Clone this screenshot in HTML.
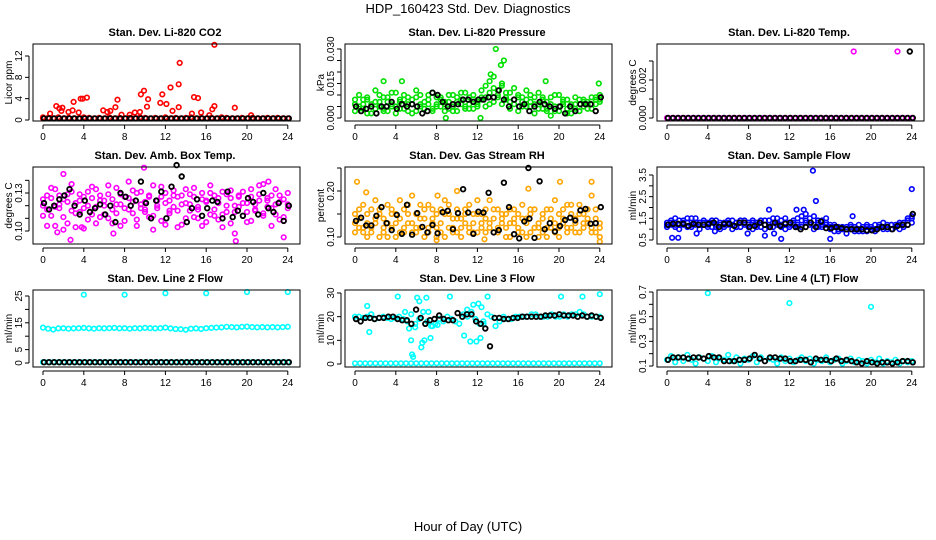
<!DOCTYPE html>
<html><head><meta charset="utf-8"><title>HDP_160423 Std. Dev. Diagnostics</title>
<style>body{margin:0;background:#fff}svg{display:block;font-family:"Liberation Sans",Arial,sans-serif}</style>
</head><body>
<svg id="chart" width="936" height="540" viewBox="0 0 936 540">
<rect x="0" y="0" width="936" height="540" fill="#fff"/>
<text x="468" y="13" text-anchor="middle" font-size="13">HDP_160423 Std. Dev. Diagnostics</text>
<text x="468" y="531" text-anchor="middle" font-size="13">Hour of Day (UTC)</text>
<g id="panels"></g>
</svg>
<script>
// ---- data ----
const xTicks = [0,4,8,12,16,20,24];
const titles = ["Stan. Dev. Li-820 CO2","Stan. Dev. Li-820 Pressure","Stan. Dev. Li-820 Temp.","Stan. Dev. Amb. Box Temp.","Stan. Dev. Gas Stream RH","Stan. Dev. Sample Flow","Stan. Dev. Line 2 Flow","Stan. Dev. Line 3 Flow","Stan. Dev. Line 4 (LT) Flow"];
const yLabels = ["Licor ppm","kPa","degrees C","degrees C","percent","ml/min","ml/min","ml/min","ml/min"];
const colors = ["#ff0000","#00e000","#ff00ff","#ff00ff","#ffa500","#0000ff","#00ffff","#00ffff","#00ffff"];
const yTicks = [[0,4,8,12],[0,0.005,0.010,0.015,0.020,0.025,0.030],[0,0.001,0.002,0.003],[0.10,0.11,0.12,0.13,0.14],[0.10,0.15,0.20,0.25],[0.5,1.0,1.5,2.0,2.5,3.0,3.5],[0,5,10,15,20,25],[0,10,20,30],[0.1,0.2,0.3,0.4,0.5,0.6,0.7]];
const yTickLabels = [["0","4","8","12"],["0.000","","","0.015","","","0.030"],["0.000","","0.002",""],["0.10","","","0.13",""],["0.10","","0.20",""],["0.5","","1.5","","2.5","","3.5"],["0","5","","15","","25"],["0","10","20","30"],["0.1","","0.3","","0.5","","0.7"]];
const yCal = [[0,76,12,12],[0,74,0.030,5],[0,74,0.003,17],[0.10,64,0.13,26],[0.10,70,0.20,24],[0.5,73,3.5,8],[0,73,25,6],[0,74,30,3],[0.1,76,0.7,2]];

const co2Band = [0.3,0.4,0.3,0.5,0.3,0.4,0.3,0.3,0.5,0.4,0.3,0.4,0.3,0.5,0.3,0.4,0.3,0.4,0.3,0.5,0.4,0.3,0.4,0.3,0.5,0.3,0.4,0.3,0.4,0.5,0.3,0.4,0.3,0.4,0.3,0.5,0.4,0.3,0.3,0.4,0.3,0.4,0.3,0.3,0.4,0.3,0.4,0.3,0.3];
const co2OutH = [0.0,0.7,1.3,1.6,1.9,1.8,2.5,2.9,3.0,3.5,3.7,3.9,4.3,5.9,6.3,6.6,7.1,7.3,7.7,8.5,9.0,9.6,9.5,9.9,10.2,10.3,11.5,11.7,12.1,12.5,12.7,13.3,13.3,13.4,14.6,14.8,15.2,15.5,16.3,16.6,16.8,16.8,18.8,20.4];
const co2OutV = [0.5,1.2,2.6,2.2,2.3,1.7,1.5,1.8,3.4,1.4,4.0,4.0,4.2,1.8,1.5,1.7,2.4,3.8,1.0,1.0,1.4,4.8,1.5,5.5,2.5,3.9,3.2,4.8,3.0,6.1,1.7,2.4,6.7,10.7,1.2,4.3,4.1,1.4,0.9,2.0,2.6,14.1,2.3,0.9];
const co2Black = [0.3,0.3,0.3,0.3,0.3,0.3,0.3,0.3,0.3,0.3,0.3,0.3,0.3,0.3,0.3,0.3,0.3,0.3,0.3,0.3,0.3,0.3,0.3,0.3,0.3,0.3,0.3,0.3,0.3,0.3,0.3,0.3,0.3,0.3,0.3,0.3,0.3,0.3,0.3,0.3,0.3,0.3,0.3,0.3,0.3,0.3,0.3,0.3,0.3];

const presA = [0.006,0.010,0.004,0.008,0.002,0.007,0.005,0.009,0.003,0.006,0.011,0.004,0.008,0.006,0.002,0.009,0.005,0.007,0.010,0.004,0.006,0.008,0.003,0.007,0.005,0.009,0.006,0.011,0.004,0.008,0.007,0.012,0.009,0.016,0.013,0.010,0.014,0.008,0.011,0.006,0.010,0.007,0.012,0.005,0.009,0.004,0.008,0.003,0.006,0.010,0.005,0.007,0.002,0.006,0.004,0.008,0.005,0.007,0.009,0.006,0.008];
const presB = [0.003,0.005,0.008,0.002,0.006,0.004,0.010,0.003,0.007,0.005,0.002,0.008,0.004,0.009,0.006,0.003,0.010,0.004,0.006,0.003,0.009,0.005,0.007,0.004,0.010,0.003,0.008,0.005,0.009,0.004,0.006,0.008,0.005,0.011,0.007,0.012,0.006,0.009,0.004,0.008,0.003,0.009,0.005,0.007,0.002,0.006,0.009,0.004,0.001,0.005,0.003,0.008,0.004,0.002,0.006,0.003,0.007,0.004,0.006,0.008,0.010];
const presC = [0.008,0.004,0.006,0.009,0.005,0.012,0.007,0.004,0.009,0.011,0.005,0.007,0.010,0.003,0.008,0.012,0.006,0.004,0.008,0.011,0.005,0.009,0.006,0.010,0.003,0.007,0.011,0.004,0.006,0.010,0.005,0.009,0.014,0.006,0.018,0.009,0.015,0.011,0.007,0.013,0.009,0.005,0.008,0.010,0.006,0.011,0.004,0.007,0.009,0.003,0.010,0.006,0.008,0.005,0.009,0.003,0.008,0.006,0.004,0.009,0.007];
const presOutH = [13.8,14.6,14.3,2.8,4.6,18.7,23.9,8.9,12.3,13.3];
const presOutV = [0.030,0.025,0.023,0.016,0.016,0.016,0.015,0.0,0.0,0.019];
const presBlack = [0.005,0.003,0.004,0.005,0.002,0.005,0.005,0.007,0.004,0.006,0.005,0.006,0.005,0.002,0.003,0.011,0.010,0.007,0.005,0.006,0.006,0.008,0.008,0.007,0.008,0.008,0.009,0.009,0.012,0.008,0.005,0.008,0.005,0.006,0.003,0.005,0.007,0.006,0.005,0.004,0.005,0.002,0.005,0.003,0.006,0.006,0.006,0.003,0.009];

const tempBand = [0,0,0,0,0,0,0,0,0,0,0,0,0,0,0,0,0,0,0,0,0,0,0,0,0,0,0,0,0,0,0,0,0,0,0,0,0,0,0,0,0,0,0,0,0,0,0,0,0];
const tempOutH = [18.3,22.6];
const tempOutV = [0.0035,0.0035];
const tempBlackOutH = [23.8];
const tempBlackOutV = [0.0035];

const ambA = [0.120,0.128,0.112,0.133,0.118,0.125,0.106,0.131,0.122,0.115,0.127,0.109,0.135,0.119,0.124,0.113,0.129,0.117,0.134,0.121,0.108,0.126,0.114,0.130,0.118,0.123,0.111,0.136,0.120,0.127,0.105,0.124,0.132,0.116,0.128,0.110,0.121,0.134,0.119,0.125,0.107,0.130,0.117,0.122,0.113,0.129,0.126,0.098,0.119,0.131,0.115,0.127,0.121,0.136,0.112,0.124,0.118,0.133,0.109,0.125,0.121];
const ambB = [0.112,0.117,0.126,0.104,0.121,0.111,0.129,0.116,0.103,0.124,0.118,0.131,0.113,0.106,0.128,0.120,0.110,0.125,0.114,0.104,0.127,0.117,0.132,0.109,0.121,0.115,0.128,0.112,0.124,0.108,0.130,0.116,0.119,0.127,0.105,0.122,0.129,0.111,0.117,0.104,0.123,0.113,0.128,0.109,0.131,0.115,0.106,0.120,0.127,0.112,0.122,0.108,0.116,0.129,0.114,0.126,0.104,0.121,0.128,0.111,0.118];
const ambC = [0.125,0.104,0.134,0.119,0.128,0.101,0.123,0.137,0.114,0.129,0.102,0.120,0.126,0.133,0.111,0.124,0.136,0.106,0.121,0.129,0.118,0.139,0.123,0.104,0.131,0.117,0.127,0.101,0.118,0.135,0.122,0.114,0.128,0.103,0.121,0.133,0.116,0.127,0.110,0.130,0.124,0.136,0.112,0.126,0.103,0.120,0.132,0.115,0.128,0.122,0.107,0.133,0.117,0.124,0.137,0.119,0.128,0.113,0.123,0.108,0.130];
const ambOutH = [2.0,1.4,2.7,3.8,9.9,6.9,18.9,22.1,23.6];
const ambOutV = [0.145,0.099,0.093,0.103,0.150,0.098,0.092,0.139,0.095];
const ambBlack = [0.122,0.117,0.120,0.125,0.128,0.133,0.120,0.113,0.124,0.115,0.118,0.121,0.113,0.120,0.107,0.130,0.127,0.120,0.124,0.139,0.122,0.110,0.124,0.131,0.110,0.135,0.152,0.143,0.107,0.118,0.125,0.112,0.118,0.124,0.123,0.110,0.131,0.111,0.116,0.112,0.126,0.123,0.113,0.130,0.118,0.115,0.122,0.108,0.120];

const rhA = [0.13,0.16,0.11,0.15,0.12,0.18,0.10,0.14,0.17,0.12,0.15,0.11,0.16,0.13,0.19,0.12,0.14,0.10,0.17,0.13,0.15,0.11,0.18,0.12,0.14,0.16,0.10,0.13,0.17,0.11,0.15,0.12,0.14,0.18,0.11,0.16,0.13,0.15,0.10,0.14,0.12,0.17,0.13,0.11,0.16,0.12,0.15,0.10,0.14,0.18,0.12,0.16,0.11,0.15,0.13,0.17,0.12,0.14,0.19,0.11,0.13];
const rhB = [0.11,0.14,0.12,0.10,0.16,0.13,0.15,0.11,0.13,0.16,0.10,0.14,0.12,0.17,0.11,0.15,0.12,0.16,0.11,0.14,0.12,0.16,0.10,0.15,0.12,0.11,0.14,0.16,0.12,0.15,0.11,0.13,0.16,0.12,0.14,0.11,0.15,0.12,0.13,0.16,0.11,0.14,0.10,0.15,0.12,0.13,0.11,0.16,0.12,0.13,0.10,0.14,0.17,0.12,0.11,0.15,0.13,0.16,0.12,0.14,0.10];
const rhC = [0.15,0.12,0.17,0.13,0.11,0.14,0.16,0.12,0.10,0.15,0.13,0.18,0.11,0.15,0.13,0.11,0.17,0.14,0.12,0.16,0.10,0.13,0.15,0.17,0.11,0.14,0.12,0.15,0.11,0.13,0.18,0.15,0.11,0.13,0.16,0.12,0.14,0.10,0.16,0.13,0.15,0.11,0.14,0.16,0.12,0.10,0.14,0.12,0.16,0.11,0.15,0.13,0.12,0.17,0.14,0.11,0.15,0.13,0.11,0.16,0.12];
const rhOutH = [0.2,1.1,8.1,10.0,17.0,20.1,23.2,24.0,8.0,12.7];
const rhOutV = [0.22,0.197,0.19,0.20,0.205,0.22,0.22,0.09,0.093,0.095];
const rhBlack = [0.135,0.142,0.125,0.125,0.146,0.165,0.13,0.115,0.148,0.107,0.170,0.105,0.152,0.122,0.11,0.126,0.108,0.154,0.157,0.117,0.152,0.204,0.153,0.107,0.155,0.153,0.196,0.110,0.115,0.218,0.165,0.106,0.097,0.134,0.140,0.098,0.221,0.117,0.130,0.112,0.124,0.137,0.142,0.136,0.158,0.161,0.129,0.130,0.165];
const rhBlackOutH = [17.0];
const rhBlackOutV = [0.25];

const sfA = [1.2,1.3,1.1,1.4,1.2,1.5,1.1,1.3,1.2,1.4,1.1,1.3,1.2,1.0,1.3,1.2,1.4,1.1,1.3,1.2,1.1,1.3,1.2,1.4,1.2,1.1,1.3,1.5,1.2,1.3,1.1,1.4,1.2,1.6,1.3,1.5,1.2,1.1,1.4,1.2,1.0,1.1,0.9,1.0,1.1,1.2,0.9,1.0,1.1,0.9,1.1,1.0,1.2,1.1,1.0,1.2,1.1,1.3,1.2,1.4,1.5];
const sfB = [1.1,1.4,1.2,1.0,1.3,1.1,1.5,1.2,1.0,1.3,1.2,1.1,1.4,1.2,1.1,1.4,1.0,1.3,1.1,1.4,1.3,1.0,1.1,1.3,1.0,1.4,1.1,1.2,1.4,1.0,1.3,1.2,1.5,1.1,1.4,1.2,1.0,1.3,1.1,1.5,1.2,0.9,1.1,1.0,0.8,1.0,1.1,0.9,1.0,1.2,1.0,0.9,1.1,1.0,1.2,1.0,1.1,1.0,1.1,1.2,1.3];
const sfC = [1.3,1.2,1.5,1.2,1.4,1.3,1.2,1.5,1.3,1.2,1.3,1.4,1.1,1.3,1.2,1.3,1.2,1.1,1.4,1.3,1.2,1.4,1.3,1.1,1.4,1.2,1.5,1.3,1.1,1.5,1.2,1.3,1.1,1.4,1.7,1.3,1.6,1.4,1.2,1.3,1.1,1.2,1.0,1.1,1.0,1.1,1.0,1.2,0.9,1.1,1.0,1.2,1.1,1.3,1.1,1.2,1.2,1.2,1.3,1.5,1.6];
const sfOutH = [0.5,1.1,2.9,4.7,7.9,9.6,10.0,11.2,12.7,13.4,14.3,14.6,16.0,18.2,24.0,10.5];
const sfOutV = [0.6,0.6,0.8,0.9,0.8,0.7,1.9,0.55,1.9,1.9,3.7,2.3,0.55,1.6,2.85,0.8];
const sfBlack = [1.2,1.25,1.25,1.25,1.15,1.25,1.2,1.2,1.25,1.3,1.1,1.25,1.25,1.15,1.3,1.3,1.1,1.15,1.3,1.2,1.1,1.3,1.15,1.25,1.3,1.1,1.0,1.1,1.3,1.1,1.35,1.05,1.05,1.1,1.05,1.0,1.0,1.0,1.0,0.95,0.95,1.0,1.1,1.1,1.0,1.15,1.2,1.2,1.7];

const l2Band = [13.2,12.8,12.5,12.9,13.0,12.8,12.9,13.0,13.1,12.9,12.8,13.0,12.9,13.0,13.1,12.9,13.0,12.8,13.0,12.9,13.1,13.0,12.9,13.0,13.2,12.9,12.7,12.6,12.4,12.8,12.9,12.7,13.0,13.1,13.2,13.3,13.5,13.4,13.3,13.5,13.6,13.4,13.3,13.4,13.3,13.4,13.3,13.4,13.5];
const l2Zero = [0.3,0.3,0.3,0.3,0.3,0.3,0.3,0.3,0.3,0.3,0.3,0.3,0.3,0.3,0.3,0.3,0.3,0.3,0.3,0.3,0.3,0.3,0.3,0.3,0.3,0.3,0.3,0.3,0.3,0.3,0.3,0.3,0.3,0.3,0.3,0.3,0.3,0.3,0.3,0.3,0.3,0.3,0.3,0.3,0.3,0.3,0.3,0.3,0.3];
const l2OutH = [4,8,12,16,20,24];
const l2OutV = [25.5,25.5,26,26,26.5,26.5];

const l3Band = [20,20,19.5,20,21,19,19.5,20,19.5,19,19.5,20,19,18,21,17,19,22,18,16,17,19,18,20,19,18,17,21,20,22,19,17,18,21,20,16,18,20,19,19,20,20,20,20,21,21,20,20,20,21,20,20,21,20,21,21,22,21,20,20,20,20];
const l3OutH = [1.2,1.4,1.6,4.2,4.9,5.3,5.5,5.6,5.7,5.9,6.1,6.3,6.5,6.6,6.8,7.0,7.2,7.4,7.6,8.1,9.3,10.7,11.3,11.6,11.9,12.3,12.4,12.6,13.0,20.2,22.3,24.0,12.1,11.0];
const l3OutV = [24.5,13.5,21,28.5,22,15,10,4,3,15.5,28,26.5,7,9,10,28,22,11,16,16.5,28.5,12,9.5,25,9.5,11,24,17,28.5,28.5,28.5,29.5,25.5,23];
const l3Black = [19,18,19.5,19.5,19,19.5,19.5,20,20,19,18.5,18.5,17,23,19.5,17,18.5,19,20.5,19,18.5,18.5,21.5,20,21,21,18,17,15,7.5,19.5,19.5,19,19,19.5,19.5,20,20,20,20,20,20.5,20.5,20.5,21,20.5,20.5,20.5,20,20.5,20,20.5,20,19.5];

const l4Band = [0.15,0.18,0.13,0.17,0.14,0.19,0.15,0.12,0.17,0.16,0.14,0.18,0.13,0.16,0.15,0.19,0.14,0.17,0.12,0.16,0.15,0.18,0.13,0.17,0.14,0.16,0.15,0.12,0.17,0.14,0.16,0.13,0.15,0.17,0.14,0.16,0.12,0.15,0.14,0.17,0.13,0.15,0.16,0.12,0.14,0.16,0.13,0.15,0.14,0.12,0.15,0.13,0.16,0.12,0.14,0.13,0.15,0.12,0.14,0.13,0.14];
const l4OutH = [4,12,20];
const l4OutV = [0.69,0.61,0.58];
const l4Black = [0.15,0.17,0.17,0.17,0.16,0.17,0.17,0.16,0.18,0.17,0.17,0.14,0.14,0.14,0.15,0.15,0.16,0.19,0.16,0.14,0.17,0.17,0.16,0.16,0.14,0.14,0.15,0.15,0.13,0.16,0.15,0.15,0.14,0.16,0.14,0.15,0.14,0.13,0.12,0.14,0.13,0.12,0.13,0.13,0.12,0.13,0.14,0.14,0.13];

const evenSeries = [
  [[co2Band,'c'],[co2Black,'k']],
  [[presA,'c'],[presB,'c'],[presC,'c'],[presBlack,'k']],
  [[tempBand,'c'],[tempBand,'k']],
  [[ambA,'c'],[ambB,'c'],[ambC,'c'],[ambBlack,'k']],
  [[rhA,'c'],[rhB,'c'],[rhC,'c'],[rhBlack,'k']],
  [[sfA,'c'],[sfB,'c'],[sfC,'c'],[sfBlack,'k']],
  [[l2Band,'c'],[l2Zero,'c'],[l2Zero,'k']],
  [[l2Zero,'c'],[l3Band,'c'],[l3Black,'k']],
  [[l4Band,'c'],[l4Black,'k']]
];
const outSeries = [
  [[co2OutH,co2OutV,'c']],
  [[presOutH,presOutV,'c']],
  [[tempOutH,tempOutV,'c'],[tempBlackOutH,tempBlackOutV,'k']],
  [[ambOutH,ambOutV,'c']],
  [[rhOutH,rhOutV,'c'],[rhBlackOutH,rhBlackOutV,'k']],
  [[sfOutH,sfOutV,'c']],
  [[l2OutH,l2OutV,'c']],
  [[l3OutH,l3OutV,'c']],
  [[l4OutH,l4OutV,'c']]
];

// ---- drawing ----
const NS = "http://www.w3.org/2000/svg";
const root = document.getElementById('panels');
function mk(tag, attrs, parent){const e=document.createElementNS(NS,tag);for(const k in attrs)e.setAttribute(k,attrs[k]);parent.appendChild(e);return e;}
const colX0 = [43,355,667];
const rowTop = [44,167,290];
const BOXH = 77;
for(let p=0;p<9;p++){
  const col=p%3,row=Math.floor(p/3);
  const x0=colX0[col], top=rowTop[row], bottom=top+BOXH;
  const xs = v => x0 + v*10.2;
  const cal = yCal[p];
  const ys = v => top + cal[1] + (v-cal[0])*(cal[3]-cal[1])/(cal[2]-cal[0]);
  const g = mk('g',{},root);
  
  
  const t = mk('text',{x:x0+122,y:top-8,'text-anchor':'middle','font-size':'11','font-weight':'bold'},g);
  t.textContent = titles[p];
  
  
  const yl = mk('text',{x:0,y:0,'text-anchor':'middle','font-size':'10',transform:`translate(${x0-31},${top+BOXH/2}) rotate(-90)`},g);
  yl.textContent = yLabels[p];
  
  
  const pts = mk('g',{fill:'none'},g);
  
  
  const draw=(h,v,c,k)=>{const cc=mk('circle',{cx:xs(h).toFixed(1),cy:ys(v).toFixed(1),r:2.3,stroke:c,'stroke-width':k==='k'?1.8:1.6},pts);
    
    };
  for(const pass of ['c','k']){
    for(const [vals,kind] of evenSeries[p]){ if(kind!==pass) continue;
      const c = kind==='k' ? '#000' : colors[p];
      vals.forEach((v,i)=>draw(i*24/(vals.length-1) + (kind==='k'?0.1:0), v, c, kind));
    }
    for(const [hs,vs,kind] of outSeries[p]){ if(kind!==pass) continue;
      const c = kind==='k' ? '#000' : colors[p];
      hs.forEach((h,i)=>draw(h, vs[i], c, kind));
    }
  }
  const box = mk('rect',{x:x0-10,y:top,width:267,height:BOXH,fill:'none',stroke:'#000','stroke-width':'1'},g);
  
  
  const xa = mk('g',{stroke:'#000','stroke-width':'1'},g);
  
  
  mk('line',{x1:xs(0),x2:xs(24),y1:bottom+4,y2:bottom+4},xa);
  xTicks.forEach(v=>{
    mk('line',{x1:xs(v),x2:xs(v),y1:bottom+4,y2:bottom+8},xa);
    const tl = mk('text',{x:xs(v),y:bottom+19,'text-anchor':'middle','font-size':'10',stroke:'none',fill:'#000'},xa);
    tl.textContent = v;
    
    
  });
  const ya = mk('g',{stroke:'#000','stroke-width':'1'},g);
  
  
  const yt = yTicks[p];
  mk('line',{x1:x0-14,x2:x0-14,y1:ys(yt[0]),y2:ys(yt[yt.length-1])},ya);
  yt.forEach((v,i)=>{
    const y=ys(v);
    mk('line',{x1:x0-14,x2:x0-18,y1:y,y2:y},ya);
    const lab = yTickLabels[p][i];
    if(lab){
      const tl = mk('text',{x:0,y:0,'text-anchor':'middle','font-size':'10',stroke:'none',fill:'#000',transform:`translate(${x0-21},${y}) rotate(-90)`},ya);
      tl.textContent = lab;
      
      
    }
  });
}
</script>
</body></html>
